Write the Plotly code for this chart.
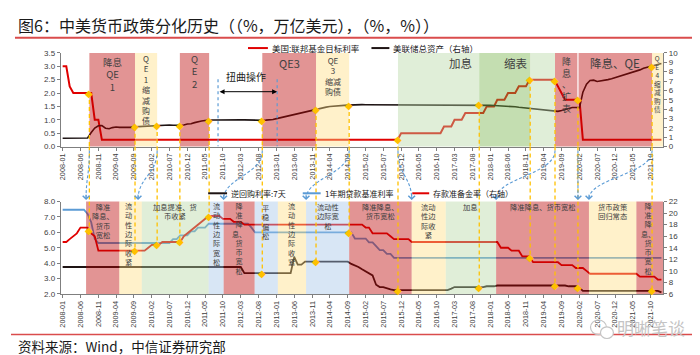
import numpy as np
import pandas as pd
import plotly.graph_objects as go

# ======================= data =======================
MONTHS = pd.date_range("2008-01-01", "2022-01-01", freq="MS")

FED_RATE_DATES = ["2008-01", "2008-03", "2008-04", "2008-10", "2008-12", "2015-12", "2016-12",
                  "2017-03", "2017-06", "2017-12", "2018-03", "2018-06", "2018-09", "2018-12",
                  "2019-08", "2019-09", "2019-10", "2020-03"]
FED_RATE_VALUES = [3.0, 2.25, 2.0, 1.0, 0.25, 0.5, 0.75, 1.0, 1.25, 1.5, 1.75, 2.0, 2.25, 2.5,
                   2.25, 2.0, 1.75, 0.25]

FED_ASSETS = [  # trillion USD, monthly 2008-01 .. 2022-01
    0.89, 0.89, 0.89, 0.89, 0.89, 0.90, 0.91, 0.91, 1.49, 1.97, 2.21, 2.24,
    1.95, 1.90, 2.02, 2.08, 2.05, 2.03, 2.00, 2.05, 2.10, 2.12, 2.14, 2.18,
    2.20, 2.24, 2.28, 2.30, 2.30, 2.30, 2.29, 2.27, 2.26, 2.26, 2.30, 2.40,
    2.43, 2.55, 2.65, 2.72, 2.78, 2.83, 2.84, 2.84, 2.85, 2.83, 2.84, 2.90,
    2.90, 2.88, 2.85, 2.85, 2.83, 2.83, 2.82, 2.80, 2.80, 2.82, 2.84, 2.88,
    2.98, 3.07, 3.17, 3.28, 3.37, 3.45, 3.55, 3.63, 3.72, 3.83, 3.92, 4.00,
    4.08, 4.15, 4.21, 4.27, 4.32, 4.36, 4.39, 4.40, 4.42, 4.45, 4.46, 4.48,
    4.48, 4.47, 4.47, 4.47, 4.48, 4.48, 4.48, 4.47, 4.47, 4.46, 4.47, 4.47,
    4.47, 4.47, 4.47, 4.47, 4.46, 4.46, 4.46, 4.46, 4.45, 4.45, 4.45, 4.45,
    4.45, 4.46, 4.46, 4.46, 4.46, 4.46, 4.46, 4.46, 4.46, 4.45, 4.44, 4.42,
    4.40, 4.38, 4.37, 4.35, 4.33, 4.30, 4.27, 4.24, 4.19, 4.15, 4.12, 4.08,
    4.05, 4.00, 3.96, 3.92, 3.88, 3.83, 3.79, 3.76, 3.85, 3.94, 4.06, 4.16,
    4.17, 4.16, 5.80, 6.66, 7.05, 7.09, 6.95, 7.00, 7.06, 7.15, 7.24, 7.36,
    7.44, 7.56, 7.70, 7.81, 7.90, 8.07, 8.19, 8.36, 8.45, 8.55, 8.66, 8.76,
    8.87]

REPO_DATES = ["2008-01", "2012-04", "2013-06", "2013-07", "2013-09", "2014-10", "2014-11", "2014-12",
              "2015-01", "2015-02", "2015-03", "2015-04", "2015-05", "2015-06", "2015-08", "2015-09",
              "2015-10", "2017-02", "2017-03", "2017-12", "2018-03", "2019-11", "2020-02", "2020-03",
              "2022-01"]
REPO_VALUES = [3.75, 3.35, 4.4, 3.9, 4.1, 3.95, 3.85, 3.75, 3.6, 3.45, 3.35, 3.2, 2.6, 2.45, 2.35,
               2.3, 2.25, 2.35, 2.45, 2.5, 2.55, 2.5, 2.4, 2.2, 2.1]

LOAN_DATES = ["2008-01", "2008-08", "2008-09", "2008-10", "2008-11", "2010-08", "2010-10", "2011-01",
              "2011-03", "2011-06", "2012-06", "2012-07", "2014-11", "2015-03", "2015-05", "2015-06",
              "2015-08", "2015-10"]
LOAN_VALUES = [7.47, 7.20, 6.66, 5.58, 5.31, 5.56, 5.81, 6.06, 6.31, 6.56, 6.31, 6.00, 5.60, 5.35,
               5.10, 4.85, 4.60, 4.35]

RRR_DATES = ["2008-01", "2008-03", "2008-04", "2008-05", "2008-06", "2008-09", "2008-10", "2008-11",
             "2010-01", "2010-02", "2010-05", "2010-11", "2010-12", "2011-01", "2011-02", "2011-03",
             "2011-04", "2011-05", "2011-06", "2011-10", "2012-01", "2012-04", "2015-02", "2015-04",
             "2015-09", "2015-10", "2016-03", "2018-04", "2018-07", "2018-10", "2019-01", "2019-09",
             "2020-01", "2020-04", "2020-05", "2021-07", "2021-12"]
RRR_VALUES = [15.0, 15.5, 16.0, 16.5, 17.5, 16.5, 16.0, 13.5, 14.0, 14.5, 15.0, 16.0, 16.5, 17.0,
              17.5, 18.0, 18.5, 19.0, 19.5, 19.0, 18.5, 18.0, 17.5, 16.5, 16.0, 15.5, 15.0, 14.0,
              13.5, 12.5, 11.5, 11.0, 10.5, 10.0, 9.5, 9.0, 8.5]

# policy events (vertical dashed connectors)
EVENT_DATES = ["2008-08-16", "2009-09-10", "2010-03-18", "2010-09-28", "2011-06-05", "2012-09-01",
               "2013-12-04", "2014-09-13", "2015-11-04", "2017-09-28", "2018-12-07", "2019-07-07",
               "2020-01-19", "2021-10-13"]
EVENT_TOP_SERIES = ["fed", "assets", "assets", "assets", "assets", "assets", "assets", "assets",
                    "fed", "assets", "fed", "fed", "fed", "assets"]
EVENT_BOTTOM_SERIES = ["rrr", "rrr", "rrr", "rrr", "rrr", "repo", "repo", "loan", "repo", "repo",
                       "rrr", "repo", "repo", "repo"]

# US policy periods (top panel)
TOP_BAND_START = ["2008-08-16", "2009-09-10", "2010-09-28", "2012-09-01", "2013-12-04", "2015-11-04",
                  "2017-09-28", "2018-12-07", "2019-07-07", "2020-01-19", "2021-10-13"]
TOP_BAND_END = ["2009-09-10", "2010-03-18", "2011-06-05", "2013-12-04", "2014-09-13", "2017-09-28",
                "2018-12-07", "2019-07-07", "2020-01-19", "2021-10-13", "2022-01-16"]
TOP_BAND_KIND = ["cut", "taper", "cut", "cut", "taper", "hike", "shrink", "hike", "cut", "cut", "taper"]
TOP_BAND_LABEL = ["降息|QE|1", "Q|E|1|缩|减|购|债", "Q|E|2", "QE3", "QE|3|缩减|购债", "加息", "缩表", "",
                  "降|息|、|扩|表", "降息、QE", "Q|E|4|缩|减|购|债"]

# China policy periods (bottom panel)
BOT_BAND_START = ["2008-07-19", "2009-04-29", "2009-11-07", "2011-06-01", "2011-10-07", "2012-06-28",
                  "2013-01-12", "2013-09-10", "2014-09-13", "2016-02-29", "2016-12-16", "2018-02-19",
                  "2020-04-22", "2021-06-01"]
BOT_BAND_END = BOT_BAND_START[1:] + ["2022-01-16"]
BOT_BAND_KIND = ["cut", "tight", "hike", "loose", "cut", "loose", "tight", "loose", "cut", "tight",
                 "hike", "cut", "tight", "cut"]
BOT_BAND_LABEL = ["降准|降息、|货币|宽松", "流|动|性|边|际|收|紧", "加息提准、货|币收紧", "流|动|性|边|际|宽|松",
                  "降|准|降|息、|货|币|宽|松", "平|稳|偏|松", "流|动|性|边|际|收|紧", "流动性|边际宽|松",
                  "降准降息、|货币宽松", "流动|性边|际收|紧", "加息", "降准降息、货币宽松",
                  "货币政策|回归常态", "降|准|降|息、|货|币|宽|松"]

TWIST_DATES = ["2011-08-20", "2013-01-06"]
TWIST_LABEL = "扭曲操作"

ARROW_FROM = ["2008-08-16", "2010-03-18", "2012-09-01", "2014-09-13", "2015-11-04", "2019-07-07",
              "2020-01-19", "2021-10-13"]
ARROW_TO = ["2008-07-19", "2009-10-06", "2011-10-07", "2013-09-10", "2016-02-29", "2018-02-19",
            "2020-01-19", "2020-04-22"]

TITLE = "图6：中美货币政策分化历史（（%，万亿美元），（%，%））"
SOURCE = "资料来源：Wind，中信证券研究部"
WATERMARK = "明晰笔谈"
TOP_NAMES = ["美国:联邦基金目标利率", "美联储总资产（右轴）"]
BOT_NAMES = ["逆回购利率:7天", "1年期贷款基准利率", "存款准备金率（右轴）"]

# ======================= styling =======================
W, H = 700, 355
RED = "#E00000"
BLACK = "#1E1414"
BLUE = "#5B9BD5"
GOLD = "#FFC000"
TXT = "#404040"
CJK = "Noto Sans CJK SC"
LAT = "Liberation Sans, Noto Sans CJK SC"
OVERLAY = {"cut": "rgba(185,0,0,0.42)", "taper": "rgba(255,222,128,0.42)",
           "tight": "rgba(255,222,128,0.42)", "hike": "rgba(182,215,162,0.42)",
           "shrink": "rgba(115,177,68,0.42)", "loose": "rgba(162,195,230,0.42)"}


def px(p):
    return p / W


def py(p):
    return 1 - p / H


XD = [px(50), px(655)]
TOP_D = [py(138), py(42)]
BOT_D = [py(289.3), py(194.5)]
R0, R1 = pd.Timestamp("2007-12-16"), pd.Timestamp("2022-01-16")


def steps(dates, vals):
    s = pd.Series(vals, index=pd.to_datetime(dates))
    return s.reindex(MONTHS, method="ffill").to_numpy()


fed = steps(FED_RATE_DATES, FED_RATE_VALUES)
assets = np.array(FED_ASSETS)
repo = steps(REPO_DATES, REPO_VALUES)
loan = steps(LOAN_DATES, LOAN_VALUES)
rrr = steps(RRR_DATES, RRR_VALUES)
SERIES = {"fed": fed, "assets": assets, "repo": repo, "loan": loan, "rrr": rrr}
TOP_AX = {"fed": "y", "assets": "y2"}
BOT_AX = {"repo": "y3", "loan": "y3", "rrr": "y4"}
TOP_MIN = {"y": 0, "y2": 0}
BOT_MAX = {"y3": 8, "y4": 22}


def value_at(arr, date):
    t = pd.Timestamp(date)
    mi = (t.year - 2008) * 12 + (t.month - 1) + (t.day - 1) / t.days_in_month
    return float(np.interp(mi, np.arange(len(arr)), arr))


def xpaper(date):
    return XD[0] + (pd.Timestamp(date) - R0) / (R1 - R0) * (XD[1] - XD[0])


def dstr(t):
    return pd.Timestamp(t).strftime("%Y-%m-%d %H:%M")


fig = go.Figure()
fig.add_trace(go.Scatter(x=MONTHS, y=fed, mode="lines", line=dict(color=RED, width=2),
                         xaxis="x", yaxis="y", hoverinfo="skip"))
fig.add_trace(go.Scatter(x=MONTHS, y=assets, mode="lines", line=dict(color=BLACK, width=1.6),
                         xaxis="x", yaxis="y2", hoverinfo="skip"))
fig.add_trace(go.Scatter(x=MONTHS, y=repo, mode="lines", line=dict(color=BLACK, width=1.8),
                         xaxis="x2", yaxis="y3", hoverinfo="skip"))
fig.add_trace(go.Scatter(x=MONTHS, y=loan, mode="lines", line=dict(color=BLUE, width=1.8),
                         xaxis="x2", yaxis="y3", hoverinfo="skip"))
fig.add_trace(go.Scatter(x=MONTHS, y=rrr, mode="lines", line=dict(color=RED, width=1.8),
                         xaxis="x2", yaxis="y4", hoverinfo="skip"))

shapes = []
ann = []

# bands
for s, e, k in zip(TOP_BAND_START, TOP_BAND_END, TOP_BAND_KIND):
    shapes.append(dict(type="rect", xref="x", yref="y domain", x0=s, x1=e, y0=0, y1=1,
                       fillcolor=OVERLAY[k], line=dict(width=0), layer="above"))
for s, e, k in zip(BOT_BAND_START, BOT_BAND_END, BOT_BAND_KIND):
    shapes.append(dict(type="rect", xref="x2", yref="y3 domain", x0=s, x1=e, y0=0, y1=1,
                       fillcolor=OVERLAY[k], line=dict(width=0), layer="above"))

# white separator between the two red US bands
sep = TOP_BAND_START[9]
shapes.append(dict(type="line", xref="x", yref="y", x0=sep, x1=sep, y0=3.5,
                   y1=value_at(fed, sep), line=dict(color="white", width=1.2), layer="above"))

# event connectors + markers
for d, ts, bs in zip(EVENT_DATES, EVENT_TOP_SERIES, EVENT_BOTTOM_SERIES):
    ya, yb = TOP_AX[ts], BOT_AX[bs]
    vt, vb = value_at(SERIES[ts], d), value_at(SERIES[bs], d)
    dash = dict(color=GOLD, width=1.3, dash="4px,3px")
    shapes.append(dict(type="line", xref="x", yref=ya, x0=d, x1=d, y0=vt, y1=TOP_MIN[ya],
                       line=dash, layer="above"))
    shapes.append(dict(type="line", xref="x", yref="paper", x0=d, x1=d, y0=TOP_D[0], y1=BOT_D[1],
                       line=dash, layer="above"))
    shapes.append(dict(type="line", xref="x2", yref=yb, x0=d, x1=d, y0=BOT_MAX[yb], y1=vb,
                       line=dash, layer="above"))
    for xr, yr, v in (("x", ya, vt), ("x2", yb, vb)):
        ann.append(dict(xref=xr, yref=yr, x=d, y=v, text="◆", showarrow=False,
                        font=dict(size=10, color=GOLD, family="DejaVu Sans"),
                        xanchor="center", yanchor="middle"))

# operation twist
for d in TWIST_DATES:
    shapes.append(dict(type="line", xref="x", yref="y", x0=d, x1=d, y0=2.52, y1=0,
                       line=dict(color=BLUE, width=1.2, dash="3px,3px"), layer="above"))
ann.append(dict(xref="x", yref="y", x=TWIST_DATES[1], y=2.05, ax=TWIST_DATES[0], ay=2.05,
                axref="x", ayref="y", text="", showarrow=True, arrowside="end+start",
                arrowhead=2, arrowsize=1, arrowwidth=1, arrowcolor="#000000",
                standoff=0, startstandoff=0))
tm = pd.Timestamp(TWIST_DATES[0]) + (pd.Timestamp(TWIST_DATES[1]) - pd.Timestamp(TWIST_DATES[0])) * 0.47
ann.append(dict(xref="x", yref="y", x=dstr(tm), y=2.62, text=TWIST_LABEL, showarrow=False,
                font=dict(size=10, color="#202020", family=CJK)))

# curved blue arrows linking US events to China periods
for a, b in zip(ARROW_FROM, ARROW_TO):
    x0, x1 = xpaper(a), xpaper(b)
    y0, y1 = py(142), py(192)
    c1y, c2y = py(167), py(170)
    path = f"M {x0},{y0} C {x0},{c1y} {x1},{c2y} {x1},{y1}"
    shapes.append(dict(type="path", xref="paper", yref="paper", path=path,
                       line=dict(color=BLUE, width=1.1, dash="3px,2px"), layer="above"))
    ann.append(dict(xref="paper", yref="paper", x=x1, y=py(193), ax=0, ay=-7, text="",
                    showarrow=True, arrowhead=4, arrowsize=1.3, arrowwidth=1, arrowcolor=BLUE,
                    standoff=0))

# band labels (multi-line text blocks; line pitch = 1.3 x font size)
TOP_LABEL_Y0 = [52, 48, 48.5, 52, 50, 52, 52, 52, 52, 52, 48]
TOP_LABEL_SIZE = [9.5, 8, 9.5, 11, 8, 11.5, 11.5, 11, 9, 11.5, 6.6]
TOP_LABEL_FRAC = [0.5, 0.5, 0.5, 0.5, 0.5, 0.77, 0.73, 0.5, 0.5, 0.5, 0.5]
BOT_LABEL_Y0 = [200, 200, 200, 200, 200.5, 201, 200, 200.5, 200, 200, 200, 200, 200, 200]
BOT_LABEL_SIZE = [7.3, 7.2, 7.3, 7.2, 7.1, 7.3, 7.2, 7.3, 7.3, 7.3, 7.3, 7.3, 7.3, 7.1]
BOT_LABEL_FRAC = [0.5, 0.4, 0.5, 0.5, 0.5, 0.5, 0.5, 0.5, 0.5, 0.5, 0.5, 0.5, 0.5, 0.45]


def add_block(xref, start, end, frac, label, y0, size):
    t0, t1 = pd.Timestamp(start), pd.Timestamp(end)
    xc = dstr(t0 + (t1 - t0) * frac)
    lines = label.split("|")
    yc = y0 + (len(lines) - 1) * 1.3 * size / 2
    ann.append(dict(xref=xref, yref="paper", x=xc, y=py(yc), text="<br>".join(lines),
                    showarrow=False, font=dict(size=size, color=TXT, family=CJK),
                    xanchor="center", yanchor="middle", align="center"))


for i in range(len(TOP_BAND_START)):
    if TOP_BAND_LABEL[i]:
        add_block("x", TOP_BAND_START[i], TOP_BAND_END[i], TOP_LABEL_FRAC[i], TOP_BAND_LABEL[i],
                  TOP_LABEL_Y0[i], TOP_LABEL_SIZE[i])
for i in range(len(BOT_BAND_START)):
    add_block("x2", BOT_BAND_START[i], BOT_BAND_END[i], BOT_LABEL_FRAC[i], BOT_BAND_LABEL[i],
              BOT_LABEL_Y0[i], BOT_LABEL_SIZE[i])

# manual legends
TOP_LEG_POS = [(238, 258), (362, 380)]
for (x0, x1), name, col in zip(TOP_LEG_POS, TOP_NAMES, [RED, BLACK]):
    shapes.append(dict(type="line", xref="paper", yref="paper", x0=px(x0), x1=px(x1),
                       y0=py(37), y1=py(37), line=dict(color=col, width=2)))
    ann.append(dict(xref="paper", yref="paper", x=px(x1 + 2), y=py(37), text=name,
                    showarrow=False, xanchor="left", yanchor="middle",
                    font=dict(size=8.5, color="#202020", family=CJK)))
BOT_LEG_POS = [(198, 217), (293, 311), (403, 420)]
for (x0, x1), name, col in zip(BOT_LEG_POS, BOT_NAMES, [BLACK, BLUE, RED]):
    shapes.append(dict(type="line", xref="paper", yref="paper", x0=px(x0), x1=px(x1),
                       y0=py(186), y1=py(186), line=dict(color=col, width=2)))
    ann.append(dict(xref="paper", yref="paper", x=px(x1 + 2), y=py(186), text=name,
                    showarrow=False, xanchor="left", yanchor="middle",
                    font=dict(size=8, color="#202020", family=CJK)))

# title, source, rules, watermark
ann.append(dict(xref="paper", yref="paper", x=px(5), y=py(13), text=TITLE, showarrow=False,
                xanchor="left", yanchor="middle", font=dict(size=16, color="#1A1A1A", family=CJK)))
ann.append(dict(xref="paper", yref="paper", x=px(5), y=py(343), text=SOURCE, showarrow=False,
                xanchor="left", yanchor="middle", font=dict(size=13.5, color="#1A1A1A", family=CJK)))
ann.append(dict(xref="paper", yref="paper", x=px(643), y=py(324), text=WATERMARK, showarrow=False,
                xanchor="center", yanchor="middle", font=dict(size=17, color="#C4C4C4", family=CJK)))
shapes.append(dict(type="line", xref="paper", yref="paper", x0=px(4), x1=px(696), y0=py(26.3),
                   y1=py(26.3), line=dict(color="#DA4C4C", width=2)))
shapes.append(dict(type="line", xref="paper", yref="paper", x0=0, x1=1, y0=py(331), y1=py(331),
                   line=dict(color="#DA4C4C", width=1.5)))
shapes.append(dict(type="circle", xref="paper", yref="paper", x0=px(582), x1=px(598), y0=py(331),
                   y1=py(316), line=dict(color="#C4C4C4", width=1.2)))
shapes.append(dict(type="circle", xref="paper", yref="paper", x0=px(592), x1=px(605), y0=py(335),
                   y1=py(323), line=dict(color="#C4C4C4", width=1.2), fillcolor="white"))

AX = dict(showgrid=False, zeroline=False, showline=True, linecolor="#7F7F7F", linewidth=1,
          ticks="outside", ticklen=3, tickcolor="#7F7F7F",
          tickfont=dict(size=8, color="#404040", family=LAT))
XAX = dict(AX, type="date", range=[R0, R1], tick0="2008-01-01", dtick="M5", tickformat="%Y-%m",
           tickangle=-90, domain=XD, tickfont=dict(size=7.3, color="#404040", family=LAT))

fig.update_layout(
    width=W, height=H, autosize=False, margin=dict(l=0, r=0, t=0, b=0),
    paper_bgcolor="white", plot_bgcolor="white", showlegend=False,
    xaxis=dict(XAX, anchor="y"),
    xaxis2=dict(XAX, anchor="y3"),
    yaxis=dict(AX, domain=TOP_D, anchor="x", range=[0, 3.5], dtick=0.5, tickformat=".1f"),
    yaxis2=dict(AX, domain=TOP_D, anchor="x", overlaying="y", side="right", range=[0, 10], dtick=1),
    yaxis3=dict(AX, domain=BOT_D, anchor="x2", range=[2, 8], dtick=1, tickformat=".1f"),
    yaxis4=dict(AX, domain=BOT_D, anchor="x2", overlaying="y3", side="right", range=[6, 22], dtick=2),
    shapes=shapes, annotations=ann,
)

fig.write_html("out.html")
